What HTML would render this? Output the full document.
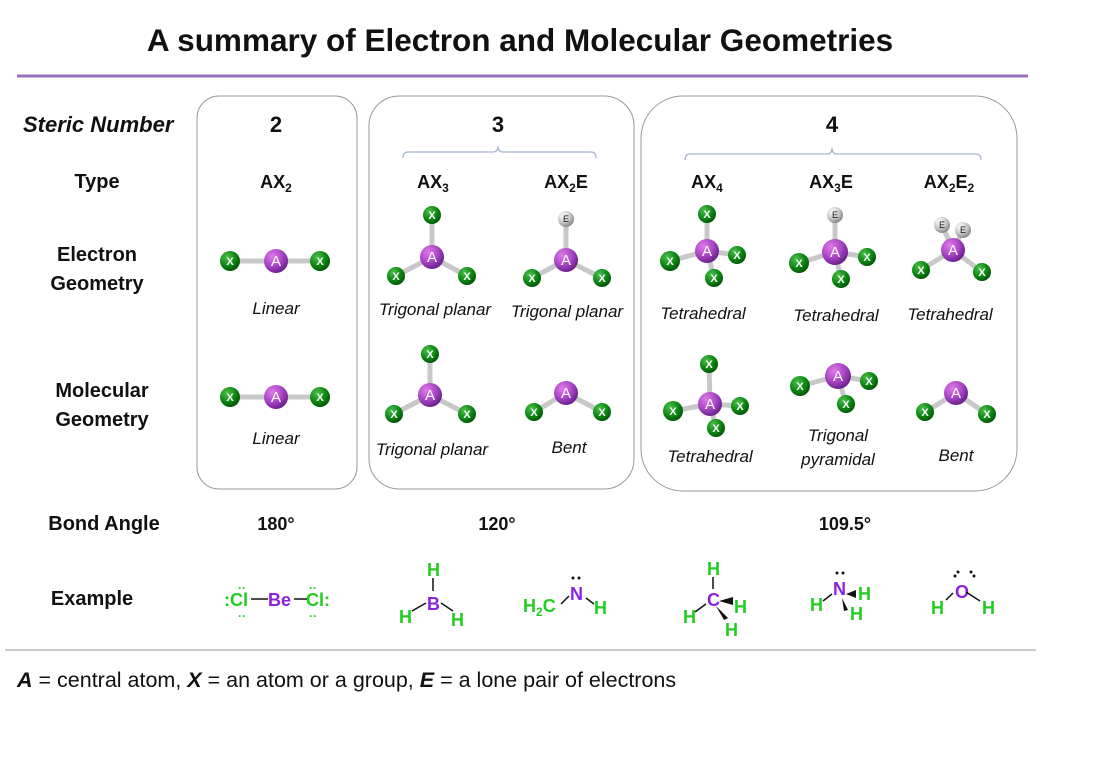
<!DOCTYPE html>
<html><head><meta charset="utf-8"><style>
html,body{margin:0;padding:0;background:#fff}
svg{display:block}
text{font-family:"Liberation Sans",Arial,sans-serif}
.lbl{font-size:20px;font-weight:bold;fill:#111}
.cap{font-size:17px;font-style:italic;fill:#111}
.ex{font-size:20px;font-weight:bold;fill:#22cc22}
.pu{fill:#8a22e0}
.b{stroke:#c8c8c8;stroke-width:5;stroke-linecap:round}
.at{font-size:11px;font-weight:bold;fill:#fff;text-anchor:middle}
.atA{font-size:15px;fill:#fff;text-anchor:middle}
.atE{font-size:9px;fill:#111;text-anchor:middle}
</style></head><body>
<svg width="1109" height="759" viewBox="0 0 1109 759" xmlns="http://www.w3.org/2000/svg">
<defs>
<radialGradient id="g" cx="35%" cy="30%" r="70%"><stop offset="0" stop-color="#4cc04c"/><stop offset="0.6" stop-color="#0e8a14"/><stop offset="1" stop-color="#045a08"/></radialGradient>
<radialGradient id="p" cx="35%" cy="30%" r="70%"><stop offset="0" stop-color="#e07ae8"/><stop offset="0.6" stop-color="#a745c4"/><stop offset="1" stop-color="#6e2290"/></radialGradient>
<radialGradient id="e" cx="35%" cy="30%" r="70%"><stop offset="0" stop-color="#ffffff"/><stop offset="0.6" stop-color="#c8c8c8"/><stop offset="1" stop-color="#8a8a8a"/></radialGradient>
</defs>
<rect width="1109" height="759" fill="#fff"/>
<text x="520" y="51" text-anchor="middle" style="font-size:31.5px;font-weight:bold" fill="#111">A summary of Electron and Molecular Geometries</text>
<line x1="17" y1="76" x2="1028" y2="76" stroke="#9b6fc0" stroke-width="3"/>
<rect x="197" y="96" width="160" height="393" rx="22" fill="none" stroke="#999" stroke-width="1"/>
<rect x="369" y="96" width="265" height="393" rx="30" fill="none" stroke="#999" stroke-width="1"/>
<rect x="641" y="96" width="376" height="395" rx="42" fill="none" stroke="#999" stroke-width="1"/>
<text x="23" y="132" style="font-size:22px;font-weight:bold;font-style:italic" fill="#111">Steric Number</text>
<text x="276" y="132" text-anchor="middle" style="font-size:22px;font-weight:bold" fill="#111">2</text>
<text x="498" y="132" text-anchor="middle" style="font-size:22px;font-weight:bold" fill="#111">3</text>
<text x="832" y="132" text-anchor="middle" style="font-size:22px;font-weight:bold" fill="#111">4</text>
<path d="M403 158 Q403 152 408 152 L493 152 Q498 152 498 146 Q498 152 503 152 L591 152 Q596 152 596 158" fill="none" stroke="#a9b8d0" stroke-width="1.3"/>
<path d="M685 160 Q685 154 690 154 L827 154 Q832 154 832 148 Q832 154 837 154 L976 154 Q981 154 981 160" fill="none" stroke="#a9b8d0" stroke-width="1.3"/>
<g class="lbl" text-anchor="middle">
<text x="97" y="188">Type</text>
<text x="97" y="261">Electron</text><text x="97" y="290">Geometry</text>
<text x="102" y="397">Molecular</text><text x="102" y="426">Geometry</text>
<text x="104" y="530">Bond Angle</text>
<text x="92" y="605">Example</text>
</g>
<g style="font-size:18px;font-weight:bold" fill="#111" text-anchor="middle">
<text x="276" y="188">AX<tspan font-size="12" dy="4">2</tspan></text>
<text x="433" y="188">AX<tspan font-size="12" dy="4">3</tspan></text>
<text x="566" y="188">AX<tspan font-size="12" dy="4">2</tspan><tspan dy="-4">E</tspan></text>
<text x="707" y="188">AX<tspan font-size="12" dy="4">4</tspan></text>
<text x="831" y="188">AX<tspan font-size="12" dy="4">3</tspan><tspan dy="-4">E</tspan></text>
<text x="949" y="188">AX<tspan font-size="12" dy="4">2</tspan><tspan dy="-4">E</tspan><tspan font-size="12" dy="4">2</tspan></text>
<text x="276" y="530">180°</text>
<text x="497" y="530">120°</text>
<text x="845" y="530">109.5°</text>
</g>
<g class="cap" text-anchor="middle">
<text x="276" y="314">Linear</text>
<text x="435" y="315">Trigonal planar</text>
<text x="567" y="317">Trigonal planar</text>
<text x="703" y="319">Tetrahedral</text>
<text x="836" y="321">Tetrahedral</text>
<text x="950" y="320">Tetrahedral</text>
<text x="276" y="444">Linear</text>
<text x="432" y="455">Trigonal planar</text>
<text x="569" y="453">Bent</text>
<text x="710" y="462">Tetrahedral</text>
<text x="838" y="441">Trigonal</text>
<text x="838" y="465">pyramidal</text>
<text x="956" y="461">Bent</text>
</g>
<g class="b">
<line x1="230" y1="261" x2="320" y2="261"/>
<line x1="432" y1="215" x2="432" y2="257"/><line x1="396" y1="276" x2="432" y2="257"/><line x1="467" y1="276" x2="432" y2="257"/>
<line x1="566" y1="219" x2="566" y2="260"/><line x1="532" y1="278" x2="566" y2="260"/><line x1="602" y1="278" x2="566" y2="260"/>
<line x1="707" y1="214" x2="707" y2="251"/><line x1="670" y1="261" x2="707" y2="251"/><line x1="737" y1="255" x2="707" y2="251"/><line x1="714" y1="278" x2="707" y2="251"/>
<line x1="835" y1="215" x2="835" y2="252"/><line x1="799" y1="263" x2="835" y2="252"/><line x1="867" y1="257" x2="835" y2="252"/><line x1="841" y1="279" x2="835" y2="252"/>
<line x1="942" y1="225" x2="953" y2="250"/><line x1="963" y1="230" x2="953" y2="250"/><line x1="921" y1="270" x2="953" y2="250"/><line x1="982" y1="272" x2="953" y2="250"/>
<line x1="230" y1="397" x2="320" y2="397"/>
<line x1="430" y1="354" x2="430" y2="395"/><line x1="394" y1="414" x2="430" y2="395"/><line x1="467" y1="414" x2="430" y2="395"/>
<line x1="534" y1="412" x2="566" y2="393"/><line x1="602" y1="412" x2="566" y2="393"/>
<line x1="709" y1="364" x2="710" y2="404"/><line x1="673" y1="411" x2="710" y2="404"/><line x1="740" y1="406" x2="710" y2="404"/><line x1="716" y1="428" x2="710" y2="404"/>
<line x1="800" y1="386" x2="838" y2="376"/><line x1="869" y1="381" x2="838" y2="376"/><line x1="846" y1="404" x2="838" y2="376"/>
<line x1="925" y1="412" x2="956" y2="393"/><line x1="987" y1="414" x2="956" y2="393"/>
</g>
<g>
<g fill="url(#g)">
<circle cx="230" cy="261" r="10"/><circle cx="320" cy="261" r="10"/>
<circle cx="432" cy="215" r="9"/><circle cx="396" cy="276" r="9"/><circle cx="467" cy="276" r="9"/>
<circle cx="532" cy="278" r="9"/><circle cx="602" cy="278" r="9"/>
<circle cx="707" cy="214" r="9"/><circle cx="670" cy="261" r="10"/><circle cx="737" cy="255" r="9"/><circle cx="714" cy="278" r="9"/>
<circle cx="799" cy="263" r="10"/><circle cx="867" cy="257" r="9"/><circle cx="841" cy="279" r="9"/>
<circle cx="921" cy="270" r="9"/><circle cx="982" cy="272" r="9"/>
<circle cx="230" cy="397" r="10"/><circle cx="320" cy="397" r="10"/>
<circle cx="430" cy="354" r="9"/><circle cx="394" cy="414" r="9"/><circle cx="467" cy="414" r="9"/>
<circle cx="534" cy="412" r="9"/><circle cx="602" cy="412" r="9"/>
<circle cx="709" cy="364" r="9"/><circle cx="673" cy="411" r="10"/><circle cx="740" cy="406" r="9"/><circle cx="716" cy="428" r="9"/>
<circle cx="800" cy="386" r="10"/><circle cx="869" cy="381" r="9"/><circle cx="846" cy="404" r="9"/>
<circle cx="925" cy="412" r="9"/><circle cx="987" cy="414" r="9"/>
</g>
<g fill="url(#e)">
<circle cx="566" cy="219" r="8"/><circle cx="835" cy="215" r="8"/><circle cx="942" cy="225" r="8"/><circle cx="963" cy="230" r="8"/>
</g>
<g fill="url(#p)">
<circle cx="276" cy="261" r="12"/><circle cx="432" cy="257" r="12"/><circle cx="566" cy="260" r="12"/><circle cx="707" cy="251" r="12"/><circle cx="835" cy="252" r="13"/><circle cx="953" cy="250" r="12"/>
<circle cx="276" cy="397" r="12"/><circle cx="430" cy="395" r="12"/><circle cx="566" cy="393" r="12"/><circle cx="710" cy="404" r="12"/><circle cx="838" cy="376" r="13"/><circle cx="956" cy="393" r="12"/>
</g>
<g class="at">
<text x="230" y="265">X</text><text x="320" y="265">X</text>
<text x="432" y="219">X</text><text x="396" y="280">X</text><text x="467" y="280">X</text>
<text x="532" y="282">X</text><text x="602" y="282">X</text>
<text x="707" y="218">X</text><text x="670" y="265">X</text><text x="737" y="259">X</text><text x="714" y="282">X</text>
<text x="799" y="267">X</text><text x="867" y="261">X</text><text x="841" y="283">X</text>
<text x="921" y="274">X</text><text x="982" y="276">X</text>
<text x="230" y="401">X</text><text x="320" y="401">X</text>
<text x="430" y="358">X</text><text x="394" y="418">X</text><text x="467" y="418">X</text>
<text x="534" y="416">X</text><text x="602" y="416">X</text>
<text x="709" y="368">X</text><text x="673" y="415">X</text><text x="740" y="410">X</text><text x="716" y="432">X</text>
<text x="800" y="390">X</text><text x="869" y="385">X</text><text x="846" y="408">X</text>
<text x="925" y="416">X</text><text x="987" y="418">X</text>
</g>
<g class="atE">
<text x="566" y="222">E</text><text x="835" y="218">E</text><text x="942" y="228">E</text><text x="963" y="233">E</text>
</g>
<g class="atA">
<text x="276" y="266">A</text><text x="432" y="262">A</text><text x="566" y="265">A</text><text x="707" y="256">A</text><text x="835" y="257">A</text><text x="953" y="255">A</text>
<text x="276" y="402">A</text><text x="430" y="400">A</text><text x="566" y="398">A</text><text x="710" y="409">A</text><text x="838" y="381">A</text><text x="956" y="398">A</text>
</g>
</g>
<g class="ex" style="font-size:18px">
<text x="224" y="606">:Cl</text><text x="268" y="606" class="pu">Be</text><text x="306" y="606">Cl:</text>
<text x="238" y="592" style="font-size:12px">··</text><text x="238" y="620" style="font-size:12px">··</text>
<text x="309" y="592" style="font-size:12px">··</text><text x="309" y="620" style="font-size:12px">··</text>
<text x="427" y="576">H</text><text x="427" y="610" class="pu">B</text><text x="399" y="623">H</text><text x="451" y="626">H</text>
<text x="523" y="612">H<tspan font-size="12" dy="4">2</tspan><tspan dy="-4">C</tspan></text><text x="570" y="600" class="pu">N</text><text x="594" y="614">H</text>
<text x="707" y="575">H</text><text x="707" y="606" class="pu">C</text><text x="683" y="623">H</text><text x="734" y="613">H</text><text x="725" y="636">H</text>
<text x="833" y="595" class="pu">N</text><text x="810" y="611">H</text><text x="858" y="600">H</text><text x="850" y="620">H</text>
<text x="955" y="598" class="pu">O</text><text x="931" y="614">H</text><text x="982" y="614">H</text>
</g>
<g fill="#111">
<circle cx="573" cy="578" r="1.5"/><circle cx="579" cy="578" r="1.5"/>
<circle cx="837" cy="573" r="1.5"/><circle cx="843" cy="573" r="1.5"/>
<circle cx="955" cy="576" r="1.5"/><circle cx="958" cy="572" r="1.5"/><circle cx="971" cy="572" r="1.5"/><circle cx="974" cy="576" r="1.5"/>
</g>
<g stroke="#111" stroke-width="1.5">
<line x1="251" y1="599" x2="268" y2="599"/><line x1="294" y1="599" x2="307" y2="599"/>
<line x1="433" y1="578" x2="433" y2="591"/><line x1="412" y1="611" x2="426" y2="603"/><line x1="441" y1="603" x2="453" y2="611"/>
<line x1="561" y1="604" x2="569" y2="596"/><line x1="586" y1="598" x2="594" y2="604"/>
<line x1="713" y1="577" x2="713" y2="589"/><line x1="695" y1="612" x2="706" y2="604"/>
<line x1="823" y1="601" x2="832" y2="594"/><line x1="966" y1="592" x2="980" y2="601"/><line x1="946" y1="600" x2="953" y2="593"/>
</g>
<path d="M719 601 L733 597 L733 605 Z" fill="#111"/><path d="M716 606 L728 618 L724 620 Z" fill="#111"/>
<path d="M846 594 L856 590 L856 598 Z" fill="#111"/><path d="M842 598 L848 610 L844 611 Z" fill="#111"/>
<line x1="5" y1="650" x2="1036" y2="650" stroke="#bbb" stroke-width="1.5"/>
<text x="17" y="687" style="font-size:21.5px" fill="#111"><tspan font-weight="bold" font-style="italic">A</tspan> = central atom, <tspan font-weight="bold" font-style="italic">X</tspan> = an atom or a group, <tspan font-weight="bold" font-style="italic">E</tspan> = a lone pair of electrons</text>
</svg>
</body></html>
